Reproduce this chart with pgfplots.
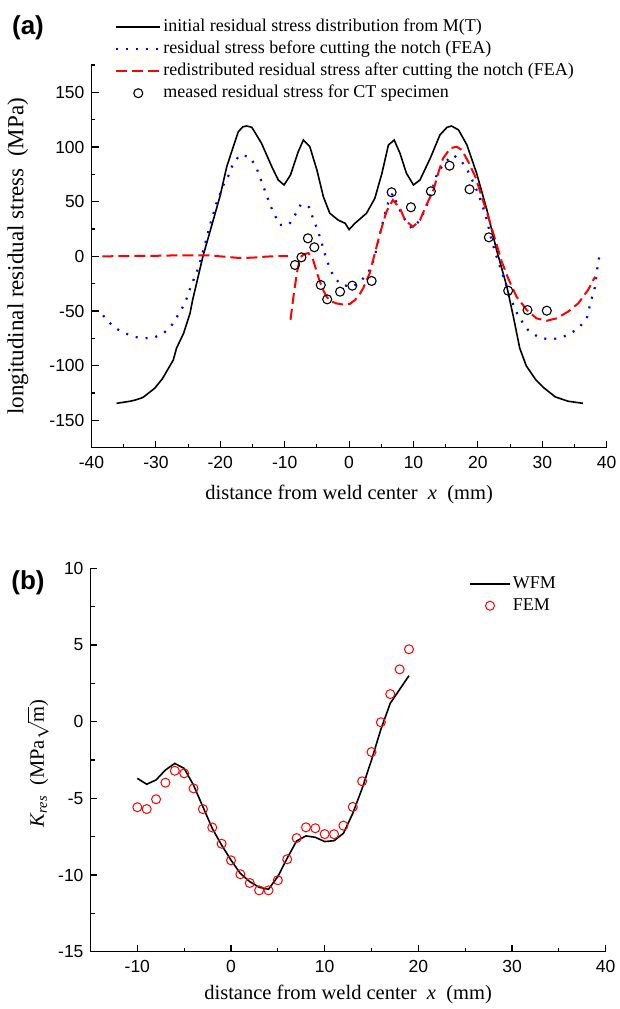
\documentclass[border=0pt]{standalone}
\usepackage{fontspec}
\setmainfont{Liberation Serif}
\newfontfamily\arialf{Liberation Sans}
\usepackage{pgfplots}
\pgfplotsset{compat=1.18}
\definecolor{myblue}{RGB}{0,0,255}
\definecolor{myred}{RGB}{255,0,0}
\begin{document}
\begin{tikzpicture}
\path[use as bounding box] (0pt,0pt) rectangle (620pt,-1009pt);
\pgfplotsset{
  common/.style={
    scale only axis,
    anchor=south west,
    axis x line*=bottom, axis y line*=left,
    tick align=inside,
    major tick length=7pt, minor tick length=4pt,
    tick style={line width=1.1pt, black},
    axis line style={line width=1.2pt},
    tick label style={font=\arialf\fontsize{17.5}{18}\selectfont},
    /pgf/number format/assume math mode=true,
    label style={font=\fontsize{20.5}{22}\selectfont},
    xticklabel style={yshift=-5pt},
    yticklabel style={xshift=-3.5pt},
    legend cell align=left,
    legend style={draw=none, fill=none, inner sep=0pt,
      font=\fontsize{18}{22}\selectfont,
      nodes={inner xsep=2pt, inner ysep=2.5pt, text height=13pt, text depth=4pt}},
  }
}
\node[font=\arialf\bfseries\fontsize{26}{26}\selectfont] at (28pt,-28pt) {(a)};
\node[font=\arialf\bfseries\fontsize{26}{26}\selectfont] at (28pt,-583pt) {(b)};

\begin{axis}[common,
  at={(91.5pt,-447.7pt)},
  width=515.2pt, height=382.7pt,
  xmin=-40, xmax=40, ymin=-175, ymax=175,
  xtick={-40,-30,...,40}, minor xtick={-35,-25,...,35},
  ytick={-150,-100,...,150}, minor ytick={-175,-125,...,175},
  xlabel={distance from weld center\ \ \textit{x}\ \ (mm)},
  ylabel={longitudinal residual stress\ \ (MPa)},
  x label style={at={(axis description cs:0.5,-0.1228)}, anchor=center},
  y label style={at={(axis description cs:-0.1427,0.5)}, anchor=center, font=\fontsize{23}{24}\selectfont},
  legend image code/.code={\draw[mark repeat=2,mark phase=2,#1] plot coordinates {(0pt,0pt) (22pt,0pt) (44pt,0pt)};},
  legend style={at={(axis description cs:0.0456,1.128)}, anchor=north west},
  unbounded coords=jump,
]
\addplot[black, line width=1.6pt] coordinates {
(-36.1,-134.4) (-34,-132.5) (-33.2,-131.4) (-32,-129) (-30.2,-120.7) (-29,-112) (-27.3,-94.8) (-26.8,-84) (-25.7,-70.4) (-24.7,-52) (-24.3,-40) (-23.5,-20) (-22.7,0) (-21.1,33) (-20,56) (-19,82) (-18,100) (-17.2,114) (-16.5,118.5) (-15.9,119.2) (-15.1,118) (-13.6,103.4) (-12,82) (-11,69.8) (-10.1,65.3) (-9.1,74.4) (-7.9,95.7) (-7.1,106.4) (-6.1,100.3) (-5,79) (-4,54.6) (-3,39.4) (-1.7,33.2) (-0.6,30.2) (0,24.5)
(0.9,30.2) (2.7,39.4) (4.0,53.1) (5.1,76) (6.1,101.8) (7.0,106.4) (7.9,94.3) (8.9,76) (10.0,65.3) (11.0,69.8) (12.6,89.7) (14.1,111) (15.2,118) (15.9,119.2) (17,115.6) (18.3,101.8) (19.8,76) (21.4,42.4) (22.9,5.8) (24.5,-27.8) (25.5,-55) (26.5,-84.1) (27.5,-100) (29,-113) (30.3,-120.5) (32,-128.5) (34,-132.5) (36.3,-134.4)
};
\addlegendentry{initial residual stress distribution from M(T)}
\addplot[myblue, line width=2.2pt, dash pattern=on 2pt off 8pt] coordinates {
(-38.2,-54) (-36.5,-65) (-34.9,-70) (-33.4,-73.5) (-32,-75) (-30.3,-74.4) (-28.7,-69.8) (-27.4,-61.9) (-26.4,-52.1) (-25.5,-43) (-24.4,-24.6) (-23.7,-15.5) (-23.2,-6.4) (-22.4,10.4) (-21.6,28.7) (-20.6,48.5) (-19.5,65.3) (-18.8,72.9) (-18.1,83.5) (-17,92.7) (-15.5,91.1) (-14.5,82.9) (-13.4,65.3) (-12.2,46.1) (-10.8,28.7) (-9.3,29.3) (-8.4,37.8) (-7.5,47.6) (-6.2,44.9) (-5.6,34.8) (-5,25.7) (-4.5,17.4) (-3.5,-3.3) (-2.4,-18.6) (-1.2,-26.2) (0.6,-27.7) (2,-21.6) (3.2,-12.5) (3.8,-3.3) (4.3,7.4) (4.8,21.1) (5.6,39.4) (6.2,51.5) (6.8,57.7) (7.6,45.4) (8.7,33.2) (9.7,25.7) (10.8,31.7) (11.8,42.4) (12.8,59.1) (13.6,74.4) (14.4,82) (15,86.6) (16.2,92.7) (17.5,86.6) (18.5,77.4) (19.6,63.7) (20.6,48.5) (21.4,33.2) (22.1,15) (22.9,-0.3) (23.7,-14) (24.4,-26.2) (25.2,-39.9) (26.3,-55.2) (27.8,-67.4) (29.4,-74) (31,-75.9) (32.5,-75) (34,-71.9) (35.6,-65.8) (36.9,-56.7) (37.6,-39.9) (38.2,-27.7) (38.5,-12.5) (39,5.8)
};
\addlegendentry{residual stress before cutting the notch (FEA)}
\addplot[myred, line width=2pt, dash pattern=on 11pt off 5pt] coordinates {
(-38.3,0) (-34,0.3) (-30,0.5) (-26,1) (-22,1) (-19,-0.5) (-17,-1.5) (-15,-1.2) (-13,-0.3) (-11,0.3) (-9.5,0.3)
(-9.3,nan)
(-9.1,-58) (-8.6,-35) (-8.1,-15) (-7.6,-1) (-7,2) (-6.3,3) (-5.6,-3) (-4.8,-18.6) (-4.1,-30) (-3.5,-37) (-2.8,-41) (-2,-43) (-1,-44) (0.1,-43.6) (0.9,-40) (1.6,-35) (2.2,-29) (3.2,-15.5) (4,2.8) (4.8,21) (5.8,41) (6.8,51.5) (7.9,44) (8.7,33) (9.9,27) (11,33) (12,47) (13.1,60.7) (13.9,77.4) (14.6,89.7) (15.7,98.8) (16.7,100.3) (17.5,97.3) (18.5,86.6) (19.6,72.8) (20.6,54.6) (21.6,36.3) (22.7,15) (23.7,-4.9) (24.7,-20.1) (26,-36.9) (27.6,-49.1) (29.1,-56.7) (30.7,-58.9) (32.2,-56.7) (34,-50.6) (35.6,-42.9) (37.1,-30.8) (38.2,-18.6)
};
\addlegendentry{redistributed residual stress after cutting the notch (FEA)}
\addplot[only marks, mark=o, mark size=4.5pt, black, line width=1.1pt] coordinates {
(-8.4,-7.9) (-7.4,-0.9) (-6.4,16.5) (-5.4,8.3) (-4.4,-26.2) (-3.4,-39.3) (-1.4,-32.3) (0.5,-26.8) (3.5,-22.5) (6.6,58.6) (9.6,44.9) (12.7,59.5) (15.6,82.9) (18.7,61.3) (21.7,17.4) (24.7,-31.4) (27.7,-49.1) (30.7,-49.7)
};
\addlegendentry{meased residual stress for CT specimen}
\end{axis}

\begin{axis}[common,
  at={(90.5pt,-951.7pt)},
  width=515.2pt, height=383.4pt,
  xmin=-15, xmax=40, ymin=-15, ymax=10,
  xtick={-10,0,...,40}, minor xtick={-5,5,...,35},
  ytick={-15,-10,...,10}, minor ytick={-12.5,-7.5,...,7.5},
  xlabel={distance from weld center\ \ \textit{x}\ \ (mm)},
  ylabel={\textit{K}\textsubscript{\textit{res}}\ \ (MPa$\sqrt{\mathrm{m}}$)},
  x label style={at={(axis description cs:0.5,-0.112)}, anchor=center},
  y label style={at={(axis description cs:-0.102,0.49)}, anchor=center},
  legend image code/.code={\draw[mark repeat=2,mark phase=2,#1] plot coordinates {(0pt,0pt) (20pt,0pt) (40pt,0pt)};},
  legend style={at={(axis description cs:0.7347,0.989)}, anchor=north west},
]
\addplot[black, line width=1.6pt] coordinates {
(-10,-3.7) (-9,-4.08) (-8,-3.8) (-7,-3.15) (-6,-2.72) (-5,-3.05) (-4,-4.14) (-3,-5.55) (-2,-6.96) (-1,-8.05) (0,-9.03) (1,-9.9) (2,-10.43) (3,-10.8) (4,-10.93) (5,-10.1) (6,-8.9) (7,-7.78) (8,-7.45) (9,-7.54) (10,-7.82) (11,-7.76) (12,-7.28) (13,-5.98) (14,-4.35) (15,-2.5) (16,-0.5) (17,1.2) (18,2.1) (19,3.0)
};
\addlegendentry{WFM}
\addplot[only marks, mark=o, mark size=4.5pt, myred, line width=1pt] coordinates {
(-10,-5.58) (-9,-5.7) (-8,-5.06) (-7,-3.98) (-6,-3.2) (-5,-3.37) (-4,-4.35) (-3,-5.7) (-2,-6.9) (-1,-7.96) (0,-9.04) (1,-9.95) (2,-10.52) (3,-11.0) (4,-11.0) (5,-10.34) (6,-8.97) (7,-7.59) (8,-6.89) (9,-6.95) (10,-7.33) (11,-7.34) (12,-6.78) (13,-5.56) (14,-3.89) (15,-1.98) (16,-0.04) (17,1.8) (18,3.41) (19,4.72)
};
\addlegendentry{FEM}
\end{axis}
\end{tikzpicture}
\end{document}
